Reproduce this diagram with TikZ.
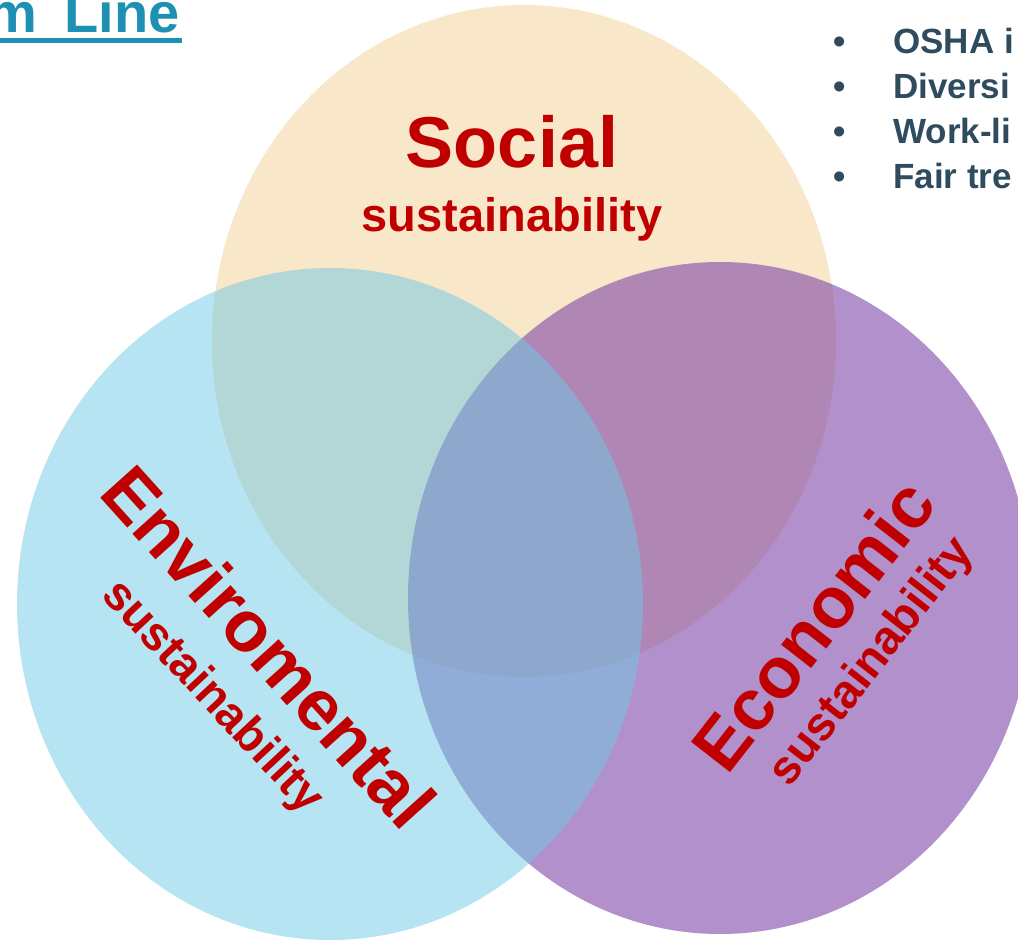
\documentclass[tikz,border=0pt]{standalone}
\usepackage{fontspec}
\setmainfont{Liberation Sans}
\definecolor{socialfill}{RGB}{248,231,200}
\definecolor{econfill}{RGB}{127,70,168}
\definecolor{envfill}{RGB}{111,201,229}
\definecolor{labelred}{RGB}{192,0,0}
\definecolor{titleblue}{RGB}{30,144,180}
\definecolor{bulletgray}{RGB}{47,75,94}
\tikzset{
  bigword/.style={inner sep=0pt,anchor=base,text=labelred,font=\fontsize{72}{72}\selectfont\bfseries},
  smallword/.style={inner sep=0pt,anchor=base,text=labelred,font=\fontsize{47}{47}\selectfont\bfseries},
  listword/.style={inner sep=0pt,text=bulletgray,font=\fontsize{35}{35}\selectfont\bfseries}
}
\begin{document}
\begin{tikzpicture}[x=1pt,y=-1pt]
  \useasboundingbox (0,0) rectangle (1018,940);
  \clip (0,0) rectangle (1018,940);
  % the three circles
  \fill[socialfill] (524,341) ellipse [x radius=312, y radius=336];
  \fill[econfill,fill opacity=0.6] (720,598) ellipse [x radius=312, y radius=336];
  \fill[envfill,fill opacity=0.5] (330,604) ellipse [x radius=313, y radius=336];
  % labels
  \node[bigword] (social) at (512,167) {Social};
  \node[smallword] (socialsub) at (512,231) {sustainability};
  \node[bigword,rotate=-48] (env) at (250,664) {Enviromental};
  \node[smallword,rotate=-47] (envsub) at (203,706) {sustainability};
  \node[bigword,rotate=52] (econ) at (833,641) {Economic};
  \node[smallword,rotate=52] (econsub) at (882,670) {sustainability};
  % title, cut at the left edge
  \node[inner sep=0pt,anchor=base east,text=titleblue,font=\fontsize{56}{56}\selectfont\bfseries] (title) at (180,32) {m\hspace{12pt} Line};
  \draw[titleblue,line width=5pt] ([yshift=-8.5pt]title.base west) -- ([yshift=-8.5pt,xshift=2pt]title.base east);
  % list, cut at the right edge
  \foreach \txt [count=\i] in {OSHA i,Diversi,Work-li,Fair tre}{
    \node[listword,anchor=base] (dot\i) at (840,8+45*\i) {•};
    \node[listword,anchor=base west] (item\i) at (893,8+45*\i) {\txt};
  }
\end{tikzpicture}
\end{document}
